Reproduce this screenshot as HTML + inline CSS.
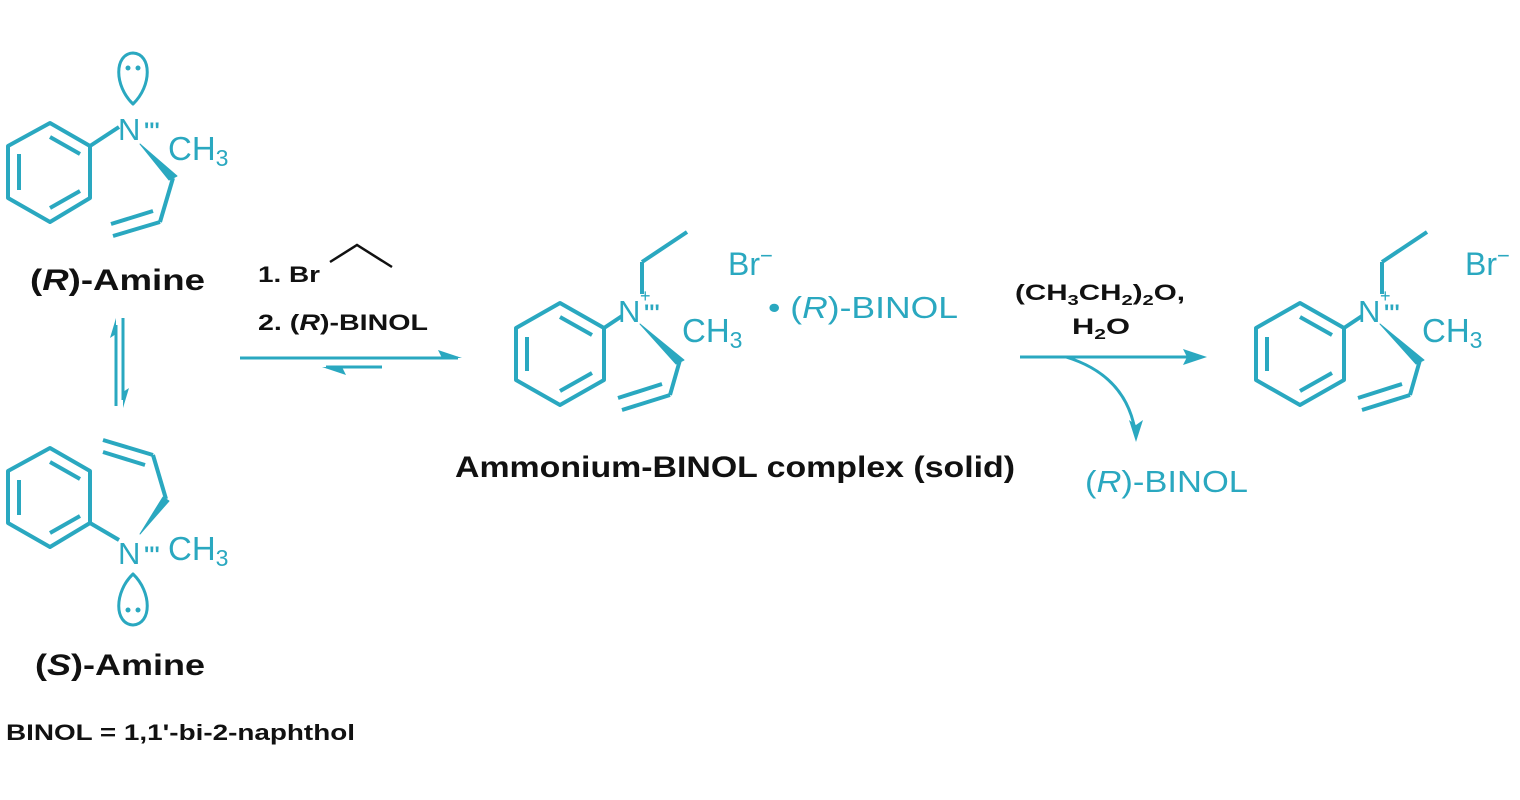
<!DOCTYPE html>
<html><head><meta charset="utf-8"><style>
html,body{margin:0;padding:0;background:#fff;}
svg{display:block;}
.t{fill:#2aa8c0;font-family:"Liberation Sans",sans-serif;}
.k{fill:#111;font-family:"Liberation Sans",sans-serif;font-weight:bold;}
</style></head><body>
<svg width="1520" height="800" viewBox="0 0 1520 800" xmlns="http://www.w3.org/2000/svg">
<defs>
<g id="amm" stroke="#2aa8c0" stroke-width="4" fill="none" stroke-linejoin="round">
  <polygon points="560,303 604,328 604,380 560,405 516,380 516,328"/>
  <line x1="527" y1="337" x2="527" y2="371"/>
  <line x1="560" y1="317" x2="592" y2="335"/>
  <line x1="560" y1="391" x2="592" y2="373"/>
  <line x1="604" y1="328" x2="622" y2="316"/>
  <line x1="642" y1="294" x2="642" y2="262"/>
  <line x1="642" y1="262" x2="687" y2="232"/>
  <polygon points="640,324 684,360 676,364" fill="#2aa8c0" stroke-width="1"/>
  <line x1="680" y1="360" x2="670" y2="395"/>
  <line x1="670" y1="395" x2="622" y2="410"/>
  <line x1="662" y1="384" x2="618" y2="398"/>
</g>
</defs>

<g stroke="#2aa8c0" stroke-width="4" fill="none" stroke-linejoin="round">
  <polygon points="50,123 90,146 90,198 50,222 8,198 8,146"/>
  <line x1="19" y1="154" x2="19" y2="190"/>
  <line x1="50" y1="137" x2="80" y2="154"/>
  <line x1="50" y1="208" x2="80" y2="191"/>
  <line x1="90" y1="146" x2="119" y2="127"/>
  <path d="M133,104 C114,86 114,54 133,53 C152,54 152,86 133,104 Z" stroke-width="3"/>
  <polygon points="140,144 177,176 169,180" fill="#2aa8c0" stroke-width="1"/>
  <line x1="173" y1="178" x2="160" y2="222"/>
  <line x1="160" y1="222" x2="113" y2="236"/>
  <line x1="153" y1="211" x2="111" y2="224"/>
  <polygon points="50,448 90,471 90,523 50,547 8,523 8,471"/>
  <line x1="19" y1="480" x2="19" y2="515"/>
  <line x1="50" y1="462" x2="80" y2="479"/>
  <line x1="50" y1="533" x2="80" y2="516"/>
  <line x1="90" y1="523" x2="119" y2="540"/>
  <path d="M133,574 C114,592 114,624 133,625 C152,624 152,592 133,574 Z" stroke-width="3"/>
  <polygon points="140,534 163,497 169,501" fill="#2aa8c0" stroke-width="1"/>
  <line x1="166" y1="499" x2="153" y2="455"/>
  <line x1="153" y1="455" x2="103" y2="440"/>
  <line x1="145" y1="465" x2="103" y2="452"/>
  <line x1="116" y1="325" x2="116" y2="406" stroke-width="3"/>
  <line x1="123" y1="318" x2="123" y2="400" stroke-width="3"/>
</g>
<polygon points="116,318 110,338 116,334" fill="#2aa8c0"/>
<polygon points="123,408 129,388 123,392" fill="#2aa8c0"/>
<g fill="#2aa8c0"><circle cx="128" cy="68" r="2.5"/><circle cx="138" cy="68" r="2.5"/><circle cx="128" cy="610" r="2.5"/><circle cx="138" cy="610" r="2.5"/></g>
<text class="t" x="118" y="140" font-size="31">N</text>
<text class="t" x="144" y="138" font-size="22" font-weight="bold">'''</text>
<text class="t" x="168" y="160" font-size="33">CH<tspan font-size="23" dy="6">3</tspan></text>
<text class="t" x="118" y="564" font-size="31">N</text>
<text class="t" x="144" y="562" font-size="22" font-weight="bold">'''</text>
<text class="t" x="168" y="560" font-size="33">CH<tspan font-size="23" dy="6">3</tspan></text>
<text class="k" x="30" y="290" font-size="30" textLength="175" lengthAdjust="spacingAndGlyphs">(<tspan font-style="italic">R</tspan>)-Amine</text>
<text class="k" x="35" y="675" font-size="30" textLength="170" lengthAdjust="spacingAndGlyphs">(<tspan font-style="italic">S</tspan>)-Amine</text>
<text class="k" x="6" y="740" font-size="22" textLength="349" lengthAdjust="spacingAndGlyphs">BINOL = 1,1'-bi-2-naphthol</text>

<text class="k" x="258" y="282" font-size="22" textLength="62" lengthAdjust="spacingAndGlyphs">1.  Br</text>
<polyline points="330,262 357,245 392,267" stroke="#111" stroke-width="2.5" fill="none"/>
<text class="k" x="258" y="330" font-size="22" textLength="170" lengthAdjust="spacingAndGlyphs">2. (<tspan font-style="italic">R</tspan>)-BINOL</text>
<line x1="240" y1="358" x2="458" y2="358" stroke="#2aa8c0" stroke-width="3"/>
<polygon points="462,358 438,350 442,358" fill="#2aa8c0"/>
<line x1="326" y1="367" x2="382" y2="367" stroke="#2aa8c0" stroke-width="3"/>
<polygon points="322,367 346,375 342,367" fill="#2aa8c0"/>

<use href="#amm"/>
<text class="t" x="618" y="322" font-size="31">N</text>
<text class="t" x="640" y="302" font-size="18">+</text>
<text class="t" x="644" y="320" font-size="22" font-weight="bold">'''</text>
<text class="t" x="682" y="342" font-size="33">CH<tspan font-size="23" dy="6">3</tspan></text>
<text class="t" x="728" y="275" font-size="32">Br<tspan font-size="22" dy="-12">−</tspan></text>
<text class="t" x="768" y="318" font-size="31" textLength="190" lengthAdjust="spacingAndGlyphs">• (<tspan font-style="italic">R</tspan>)-BINOL</text>
<text class="k" x="455" y="477" font-size="30" textLength="560" lengthAdjust="spacingAndGlyphs">Ammonium-BINOL complex (solid)</text>

<text class="k" x="1015" y="300" font-size="22" textLength="170" lengthAdjust="spacingAndGlyphs">(CH<tspan font-size="15" dy="5">3</tspan><tspan dy="-5">CH</tspan><tspan font-size="15" dy="5">2</tspan><tspan dy="-5">)</tspan><tspan font-size="15" dy="5">2</tspan><tspan dy="-5">O,</tspan></text>
<text class="k" x="1072" y="334" font-size="22" textLength="58" lengthAdjust="spacingAndGlyphs">H<tspan font-size="15" dy="5">2</tspan><tspan dy="-5">O</tspan></text>
<line x1="1020" y1="357" x2="1200" y2="357" stroke="#2aa8c0" stroke-width="3"/>
<polygon points="1207,357 1183,349 1187,357 1183,365" fill="#2aa8c0"/>
<path d="M1066,357 Q1125,375 1135,430" stroke="#2aa8c0" stroke-width="3" fill="none"/>
<polygon points="1136,442 1129,420 1136,425 1143,420" fill="#2aa8c0"/>
<text class="t" x="1085" y="492" font-size="31" textLength="163" lengthAdjust="spacingAndGlyphs">(<tspan font-style="italic">R</tspan>)-BINOL</text>

<g transform="translate(740,0)"><use href="#amm"/></g>
<text class="t" x="1358" y="322" font-size="31">N</text>
<text class="t" x="1380" y="302" font-size="18">+</text>
<text class="t" x="1384" y="320" font-size="22" font-weight="bold">'''</text>
<text class="t" x="1422" y="342" font-size="33">CH<tspan font-size="23" dy="6">3</tspan></text>
<text class="t" x="1465" y="275" font-size="32">Br<tspan font-size="22" dy="-12">−</tspan></text>
</svg>
</body></html>
